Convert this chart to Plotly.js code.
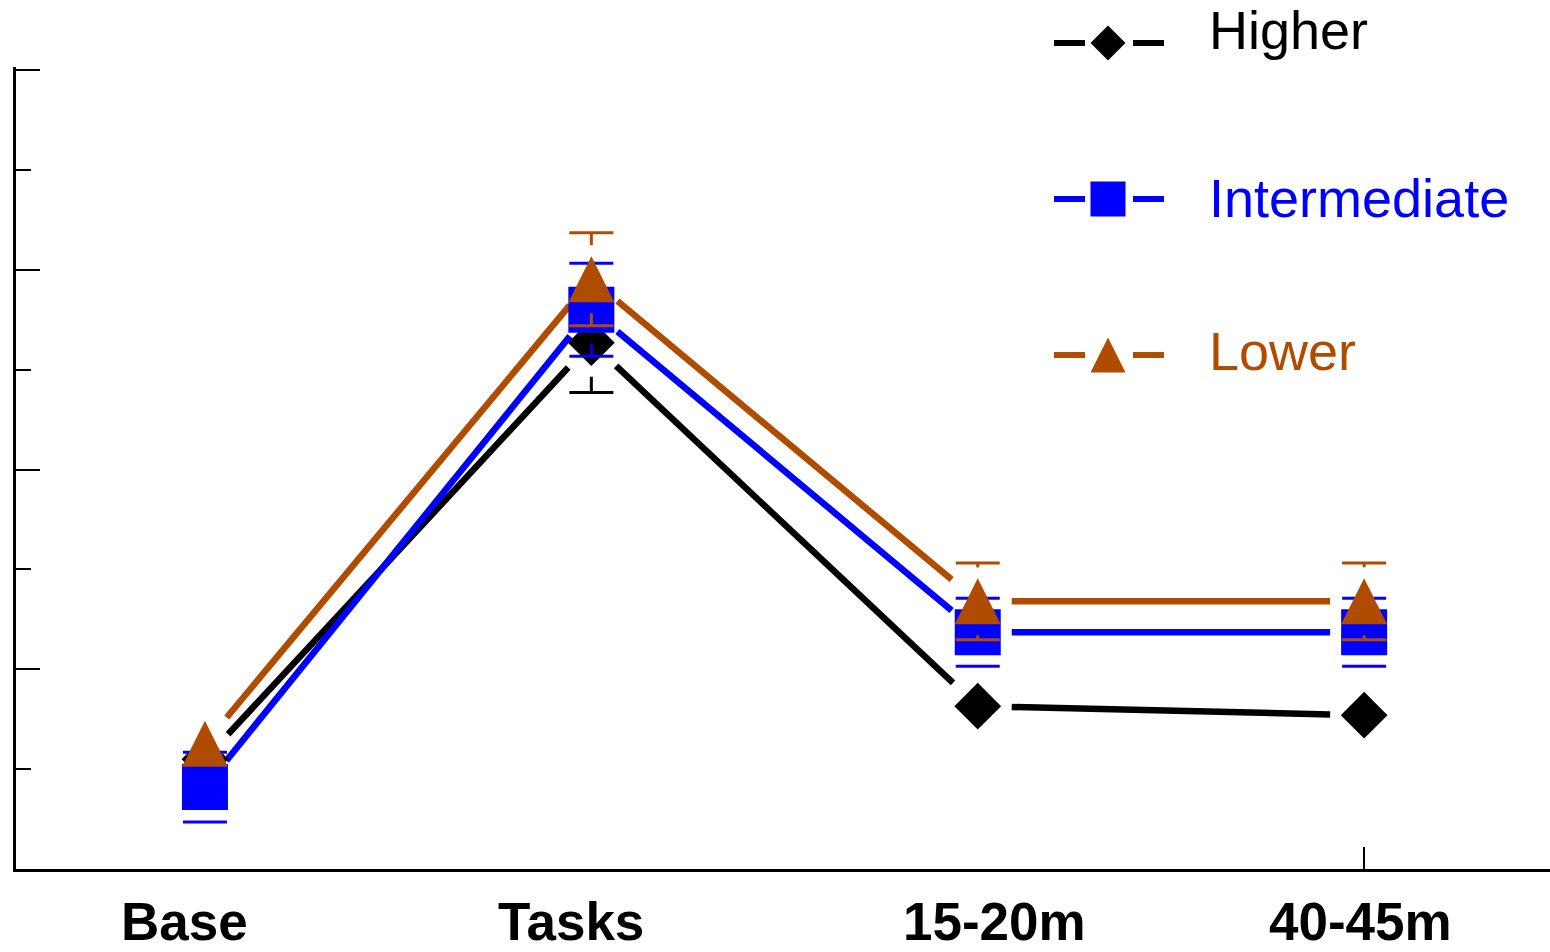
<!DOCTYPE html>
<html>
<head>
<meta charset="utf-8">
<script src="https://cdn.plot.ly/plotly-3.0.1.min.js"></script>
<style>
  html, body { margin: 0; padding: 0; background: #ffffff; }
  #chart { width: 1550px; height: 952px; }
</style>
</head>
<body>
<div id="chart"></div>
<script>
// Measurement periods along the x axis
const categories = ['Base', 'Tasks', '15-20m', '40-45m'];

// Group means and symmetric error values (null = no bar shown)
const seriesNames = ['Higher', 'Intermediate', 'Lower'];
const higher = [1.10, 5.27, 1.63, 1.54];
const higherErr = [null, 0.50, null, null];
const intermediate = [0.82, 5.60, 2.37, 2.37];
const intermediateErr = [0.35, 0.465, 0.34, 0.34];
const lower = [1.255, 5.905, 2.68, 2.68];
const lowerErr = [null, 0.465, 0.385, 0.385];

// Styling
const colors = ['#000000', '#0000ff', '#b04c00'];
const FONT = 'Liberation Sans, Arial, Helvetica, sans-serif';
const W = 1550, H = 952;
const M = { l: 16, r: 0, t: 67, b: 83 };
const plotW = W - M.l - M.r, plotH = H - M.t - M.b;
const xRange = [-0.489, 3.481];
const yRange = [0, 8.03];
const GAP = 34;                        // px left open around each marker
const CAP = 22;                        // half width of an error-bar cap, px
const labelNudge = [-20, -20, 17, -4]; // horizontal px offset of each category label

const sx = plotW / (xRange[1] - xRange[0]);
const sy = plotH / (yRange[1] - yRange[0]);

// Connecting segments, trimmed at both ends so they stop short of the markers
function gappedLine(ys) {
  const xs = [], yv = [];
  for (let i = 0; i < ys.length - 1; i++) {
    const dy = ys[i + 1] - ys[i];
    const len = Math.hypot(sx, dy * sy);
    const f = GAP / len;
    xs.push(i + f, i + 1 - f, null);
    yv.push(ys[i] + dy * f, ys[i + 1] - dy * f, null);
  }
  return { x: xs, y: yv };
}

// Error bars: a cap at each end, stem only outside the open gap around the marker
function errorBars(ys, errs) {
  const xs = [], yv = [];
  const cw = CAP / sx, g = GAP / sy;
  ys.forEach((y, i) => {
    const e = errs[i];
    if (e === null) return;
    [1, -1].forEach(s => {
      xs.push(i - cw, i + cw, null);
      yv.push(y + s * e, y + s * e, null);
      if (e > g) {
        xs.push(i, i, null);
        yv.push(y + s * g, y + s * e, null);
      }
    });
  });
  return { x: xs, y: yv };
}

const idx = categories.map((_, i) => i);

const groups = [
  { name: seriesNames[0], y: higher, err: higherErr,
    marker: { symbol: 'diamond', size: 36 } },
  { name: seriesNames[1], y: intermediate, err: intermediateErr,
    marker: { symbol: 'square', size: 46 } },
  { name: seriesNames[2], y: lower, err: lowerErr,
    marker: { symbol: 'arrow-down', angle: 180, standoff: 23, size: 46 } }
];

const traces = [];
groups.forEach((g, k) => {
  const seg = gappedLine(g.y);
  traces.push({
    type: 'scatter', mode: 'lines', x: seg.x, y: seg.y,
    line: { color: colors[k], width: 6.5 }, connectgaps: false,
    showlegend: false, hoverinfo: 'skip', legendgroup: g.name
  });
});
groups.forEach((g, k) => {
  const eb = errorBars(g.y, g.err);
  traces.push({
    type: 'scatter', mode: 'lines', x: eb.x, y: eb.y,
    line: { color: colors[k], width: 3 }, connectgaps: false,
    showlegend: false, hoverinfo: 'skip', legendgroup: g.name
  });
  traces.push({
    type: 'scatter', mode: 'markers', name: g.name, x: idx, y: g.y,
    marker: Object.assign({ color: colors[k], line: { width: 0 } }, g.marker),
    showlegend: false, legendgroup: g.name,
    text: categories, hovertemplate: '%{text}: %{y}<extra>' + g.name + '</extra>'
  });
});

// Pixel -> paper conversion for the hand-built legend
const px = v => (v - M.l) / plotW;
const py = v => (H - M.b - v) / plotH;

const legendRows = [43, 199, 355];
const legendTextY = [30, 198, 351];
const shapes = [];
const annotations = [];
legendRows.forEach((cy, k) => {
  [[1054, 1085], [1133, 1164]].forEach(([a, b]) => {
    shapes.push({ type: 'line', xref: 'paper', yref: 'paper',
      x0: px(a), x1: px(b), y0: py(cy), y1: py(cy),
      line: { color: colors[k], width: 6 } });
  });
  const cx = 1108, r = 17.5;
  if (k === 0) {
    const path = `M${px(cx)},${py(cy - r)}L${px(cx + r)},${py(cy)}L${px(cx)},${py(cy + r)}L${px(cx - r)},${py(cy)}Z`;
    shapes.push({ type: 'path', xref: 'paper', yref: 'paper', path: path,
      fillcolor: colors[k], line: { width: 0 } });
  } else if (k === 1) {
    shapes.push({ type: 'rect', xref: 'paper', yref: 'paper',
      x0: px(cx - r), x1: px(cx + r), y0: py(cy + r), y1: py(cy - r),
      fillcolor: colors[k], line: { width: 0 } });
  } else {
    const path = `M${px(cx)},${py(cy - r)}L${px(cx + r)},${py(cy + r)}L${px(cx - r)},${py(cy + r)}Z`;
    shapes.push({ type: 'path', xref: 'paper', yref: 'paper', path: path,
      fillcolor: colors[k], line: { width: 0 } });
  }
  annotations.push({
    xref: 'paper', yref: 'paper', x: px(1207), y: py(legendTextY[k]),
    xanchor: 'left', yanchor: 'middle', showarrow: false,
    text: seriesNames[k], font: { family: FONT, size: 54, color: colors[k] }
  });
});

// Category labels under the axis
categories.forEach((c, i) => {
  annotations.push({
    xref: 'x', yref: 'paper', x: i, y: py(921), xshift: labelNudge[i],
    xanchor: 'center', yanchor: 'middle', showarrow: false,
    text: '<b>' + c + '</b>', font: { family: FONT, size: 53, color: '#000000' }
  });
});

const layout = {
  width: W, height: H, margin: M,
  paper_bgcolor: '#ffffff', plot_bgcolor: '#ffffff',
  showlegend: false,
  font: { family: FONT, color: '#000000' },
  xaxis: {
    range: xRange, showgrid: false, zeroline: false,
    showline: true, linecolor: '#000000', linewidth: 3,
    tickmode: 'array', tickvals: [categories.length - 1], ticktext: [''],
    ticks: 'inside', ticklen: 22, tickwidth: 2, tickcolor: '#000000',
    showticklabels: false, fixedrange: true
  },
  yaxis: {
    range: yRange, showgrid: false, zeroline: false,
    showline: true, linecolor: '#000000', linewidth: 3,
    tickmode: 'linear', tick0: 0, dtick: 2,
    ticks: 'inside', ticklen: 24, tickwidth: 2, tickcolor: '#000000',
    showticklabels: false, fixedrange: true,
    minor: { dtick: 1, tick0: 0, ticks: 'inside', ticklen: 15, tickwidth: 2,
             tickcolor: '#000000', showgrid: false }
  },
  shapes: shapes,
  annotations: annotations
};

Plotly.newPlot('chart', traces, layout, { displayModeBar: false, staticPlot: true });
</script>
</body>
</html>
